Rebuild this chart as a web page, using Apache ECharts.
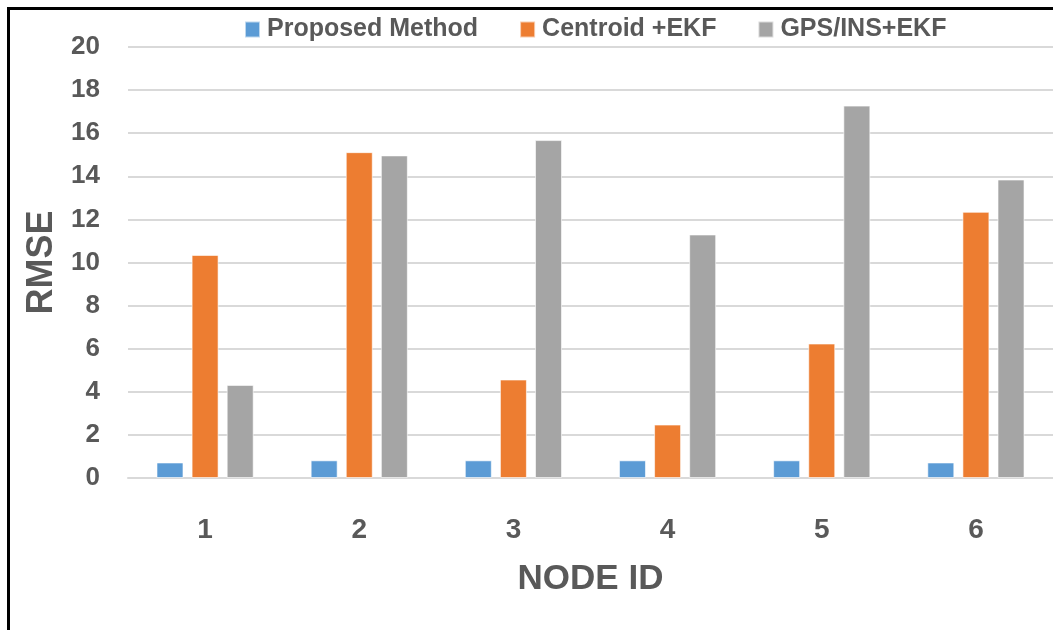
<!DOCTYPE html>
<html>
<head>
<meta charset="utf-8">
<script src="https://cdn.jsdelivr.net/npm/echarts@6/dist/echarts.min.js"></script>
<style>
  html, body { margin: 0; padding: 0; background: #fff; }
  #chart { position: absolute; left: 0; top: 0; width: 1053px; height: 630px; }
  #frame { position: absolute; left: 7px; top: 7px; width: 1100px; height: 700px;
           border-top: 3px solid #000; border-left: 3px solid #000; pointer-events: none; }
</style>
</head>
<body>
<div id="chart"></div>
<div id="frame"></div>
<script>
const categories = ['1', '2', '3', '4', '5', '6'];
const seriesNames = ['Proposed Method', 'Centroid +EKF', 'GPS/INS+EKF'];
const proposed = [0.72, 0.82, 0.82, 0.82, 0.82, 0.72];
const centroid = [10.35, 15.12, 4.57, 2.48, 6.24, 12.35];
const gpsIns = [4.32, 14.97, 15.68, 11.3, 17.28, 13.85];
const colors = ['#5B9BD5', '#ED7D31', '#A5A5A5'];

const font = '"Liberation Sans", Arial, sans-serif';
const textColor = '#595959';
const chart = echarts.init(document.getElementById('chart'), null, { renderer: 'canvas' });

function bar(name, data, color) {
  return {
    name: name,
    type: 'bar',
    data: data,
    barWidth: 27,
    barGap: '30%',
    itemStyle: { color: color, borderColor: 'rgba(255,255,255,0.6)', borderWidth: 1 }
  };
}

chart.setOption({
  animation: false,
  backgroundColor: '#fff',
  color: colors,
  legend: {
    left: 239,
    top: 12,
    itemWidth: 15,
    itemHeight: 16,
    itemGap: 41,
    icon: 'rect',
    textStyle: { fontFamily: font, fontWeight: 'bold', fontSize: 25, color: textColor, padding: [0, 0, 0, 2] },
    data: seriesNames
  },
  grid: { left: 128, right: 0, top: 47, bottom: 152, containLabel: false },
  xAxis: {
    type: 'category',
    data: categories,
    name: 'NODE ID',
    nameLocation: 'middle',
    nameGap: 84,
    nameTextStyle: { fontFamily: font, fontWeight: 'bold', fontSize: 35, color: textColor },
    axisLine: { lineStyle: { color: '#D9D9D9', width: 2 } },
    axisTick: { show: false },
    axisLabel: { fontFamily: font, fontWeight: 'bold', fontSize: 28, color: textColor, margin: 38 }
  },
  yAxis: {
    type: 'value',
    min: 0,
    max: 20,
    interval: 2,
    name: 'RMSE',
    nameLocation: 'middle',
    nameRotate: 90,
    nameGap: 66,
    nameTextStyle: { fontFamily: font, fontWeight: 'bold', fontSize: 36, color: textColor },
    axisLine: { show: false },
    axisTick: { show: false },
    axisLabel: { fontFamily: font, fontWeight: 'bold', fontSize: 26, color: textColor, margin: 28 },
    splitLine: { lineStyle: { color: '#D9D9D9', width: 2 } }
  },
  series: [
    bar(seriesNames[0], proposed, colors[0]),
    bar(seriesNames[1], centroid, colors[1]),
    bar(seriesNames[2], gpsIns, colors[2])
  ]
});
</script>
</body>
</html>
